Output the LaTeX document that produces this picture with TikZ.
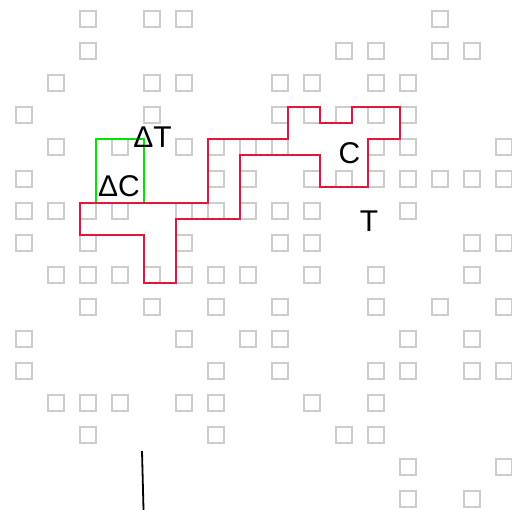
\documentclass[tikz,border=0pt]{standalone}
\usepackage{fontspec}
\setmainfont{Liberation Sans}
\definecolor{regionred}{RGB}{230,20,60}
\definecolor{deltagreen}{RGB}{0,230,0}
\definecolor{cellgrey}{RGB}{204,204,204}

\begin{document}
\begin{tikzpicture}[x=16pt,y=-16pt,
    every node/.style={font=\fontsize{30}{30}\selectfont,inner sep=0pt},
    cellbox/.style={draw=cellgrey,line width=2.2pt},
    region/.style={draw=regionred,line width=2pt},
    deltabox/.style={draw=deltagreen,line width=2pt}]
  \useasboundingbox (0,-0.6875) rectangle (32,31.1875);
  % grey cells, row by row
  \foreach \j/\row in {0/{2,4,5,13},1/{2,10,11,13,14},2/{1,4,5,8,9,11,12},
      3/{0,4,8,9,10,11,12},4/{1,3,5,6,7,8,11,12,15},
      5/{0,6,7,9,10,11,12,13,14,15},6/{0,1,2,3,5,6,7,8,9,12},
      7/{0,2,5,8,9,14,15},8/{1,2,3,4,5,6,7,9,11,14},9/{2,4,6,8,11,13,15},
      10/{0,5,7,8,12,14},11/{0,6,8,11,12,14,15},12/{1,2,3,5,6,9,11},
      13/{2,6,10,11},14/{12,15},15/{12,14}}{
    \foreach \i in \row {
      \draw[cellbox] (2*\i+1,2*\j) rectangle ++(1,1);
    }
  }
  \draw[deltabox] (6,8) rectangle (9,12);
  \draw[region] (5,12) -- (13,12) -- (13,8) -- (18,8) -- (18,6) -- (20,6)
    -- (20,7) -- (22,7) -- (22,6) -- (25,6) -- (25,8) -- (23,8) -- (23,11)
    -- (20,11) -- (20,9) -- (15,9) -- (15,13) -- (11,13) -- (11,17)
    -- (9,17) -- (9,14) -- (5,14) -- cycle;
  \node (dT) at (9.53,7.875) {ΔT};
  \node (dC) at (7.44,10.97) {ΔC};
  \node (C) at (21.84,8.875) {C};
  \node (T) at (23.06,13.16) {T};
  \coordinate (stem) at (8.875,27.5);
  \coordinate (foot) at (8.97,31.19);
  \draw[line width=1.8pt] (stem) -- (foot);
\end{tikzpicture}
\end{document}
